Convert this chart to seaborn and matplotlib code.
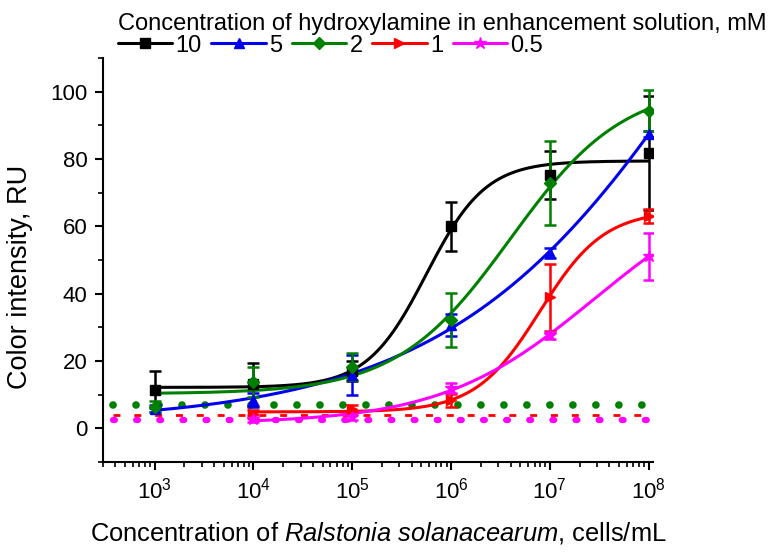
import numpy as np
import pandas as pd
import matplotlib
matplotlib.use("Agg")
import matplotlib.pyplot as plt
import seaborn as sns
from matplotlib.lines import Line2D
from matplotlib.ticker import LogLocator, MultipleLocator, NullFormatter

# --- dados ---
conc_all = [1e3, 1e4, 1e5, 1e6, 1e7, 1e8]
conc_low = [1e4, 1e5, 1e6, 1e7, 1e8]

mean_10 = [11.5, 13.1, 17.0, 60.0, 75.3, 81.9]
err_10 = [5.5, 6.4, 3.0, 7.4, 7.0, 17.0]
mean_5 = [5.9, 8.5, 15.8, 30.7, 52.2, 87.5]
err_5 = [1.0, 2.0, 6.0, 3.3, 1.5, 1.0]
mean_2 = [6.5, 13.8, 18.3, 32.3, 73.0, 94.4]
err_2 = [1.5, 4.5, 4.0, 8.0, 12.5, 6.0]
mean_1 = [4.4, 5.9, 8.3, 38.9, 63.1]
err_1 = [1.2, 1.0, 2.0, 10.0, 2.0]
mean_05 = [2.9, 3.4, 11.9, 27.7, 51.2]
err_05 = [1.0, 1.0, 1.5, 1.0, 7.0]

labels = ["10", "5", "2", "1", "0.5"]
colors = ["black", "#0000ee", "#008000", "#ff0000", "#ff00ff"]
markers = ["s", "^", "D", ">", "*"]

# níveis de fundo (linhas pontilhadas)
blank_levels = [6.8, 3.9, 2.6]
blank_colors = ["#008000", "#ff0000", "#ff00ff"]
blank_range = [380, 1e8]

series = [
    (conc_all, mean_10, err_10),
    (conc_all, mean_5, err_5),
    (conc_all, mean_2, err_2),
    (conc_low, mean_1, err_1),
    (conc_low, mean_05, err_05),
]


def ajuste_logistico(lx, y):
    # ajuste y = A + B / (1 + exp(-(lx - c) / w)) por busca em grade + mínimos quadrados
    lx = np.asarray(lx, float)
    y = np.asarray(y, float)
    melhor = None
    for c in np.linspace(3, 11, 161):
        for w in np.linspace(0.15, 2.5, 95):
            s = 1 / (1 + np.exp(-(lx - c) / w))
            X = np.column_stack([np.ones_like(s), s])
            coef, *_ = np.linalg.lstsq(X, y, rcond=None)
            sse = np.sum((X @ coef - y) ** 2)
            if melhor is None or sse < melhor[0]:
                melhor = (sse, coef, c, w)
    _, coef, c, w = melhor
    return lambda t: coef[0] + coef[1] / (1 + np.exp(-(t - c) / w))


sns.set_style("ticks")
plt.rcParams["font.family"] = ["Liberation Sans", "DejaVu Sans"]
plt.rcParams["mathtext.fontset"] = "custom"
plt.rcParams["mathtext.rm"] = "Liberation Sans"
plt.rcParams["mathtext.it"] = "Liberation Sans:italic"
for chave in ["text.color", "axes.labelcolor", "xtick.color", "ytick.color", "axes.edgecolor"]:
    plt.rcParams[chave] = "black"

fig = plt.figure(figsize=(7.71, 5.54), dpi=100)
ax = fig.add_axes([0.1336, 0.166, 0.713, 0.729])

# linhas de fundo
ax.plot(blank_range, [blank_levels[0]] * 2, color=blank_colors[0], lw=5.5,
        ls=(0, (0.01, 3.0)), dash_capstyle="round")
ax.plot(blank_range, [blank_levels[1]] * 2, color=blank_colors[1], lw=2,
        ls=(0, (2.5, 5)))
ax.plot(blank_range, [blank_levels[2]] * 2, color=blank_colors[2], lw=4.5,
        ls=(0, (0.3, 3.4)), dash_capstyle="round")

# curvas ajustadas
for (xv, yv, ev), lab, col in zip(series, labels, colors):
    lx = np.log10(xv)
    f = ajuste_logistico(lx, yv)
    xs = np.linspace(lx[0], lx[-1], 300)
    df = pd.DataFrame({"x": 10 ** xs, "y": f(xs)})
    sns.lineplot(data=df, x="x", y="y", color=col, lw=2.2, ax=ax)

# pontos com barras de erro
for (xv, yv, ev), lab, col, mk in zip(series, labels, colors, markers):
    ms = 9 if mk == "*" else 6.5
    ax.errorbar(xv, yv, yerr=ev, fmt=mk, color=col, ms=ms, capsize=4,
                elinewidth=1.8, capthick=1.8, zorder=4)

ax.set_xscale("log")
ax.set_xlim(300, 1.1e8)
ax.set_ylim(-10, 110)
ax.xaxis.set_major_locator(LogLocator(base=10, numticks=12))
ax.xaxis.set_minor_locator(LogLocator(base=10, subs=np.arange(2, 10), numticks=12))
ax.xaxis.set_minor_formatter(NullFormatter())
ax.yaxis.set_major_locator(MultipleLocator(20))
ax.yaxis.set_minor_locator(MultipleLocator(10))
ax.set_yticks([0, 20, 40, 60, 80, 100])

sns.despine(ax=ax)
for s in ["left", "bottom"]:
    ax.spines[s].set_linewidth(1.5)
    ax.spines[s].set_color("black")
ax.tick_params(which="major", length=6, width=1.5, labelsize=16, direction="out", pad=5,
               colors="black")
ax.tick_params(which="minor", length=3.5, width=1.2, direction="out", colors="black")

ax.set_xlabel(r"Concentration of $\it{Ralstonia\ solanacearum}$, cells/mL",
              fontsize=18.4, labelpad=12)
ax.set_ylabel("Color intensity, RU", fontsize=19.5)
ax.yaxis.set_label_coords(-0.127, 0.458)

handles = [Line2D([], [], color=c, marker=m, lw=2.2, ms=(9 if m == "*" else 6.5))
           for c, m in zip(colors, markers)]
fig.legend(handles, labels, title="Concentration of hydroxylamine in enhancement solution, mM",
           loc="upper left", bbox_to_anchor=(0.133, 1.005), ncol=5, frameon=False,
           fontsize=17, title_fontsize=17, alignment="left", handlelength=2.3,
           handletextpad=0.15, columnspacing=0.4, borderpad=0.15, labelspacing=0.0)

fig.savefig("out.png", dpi=100)
